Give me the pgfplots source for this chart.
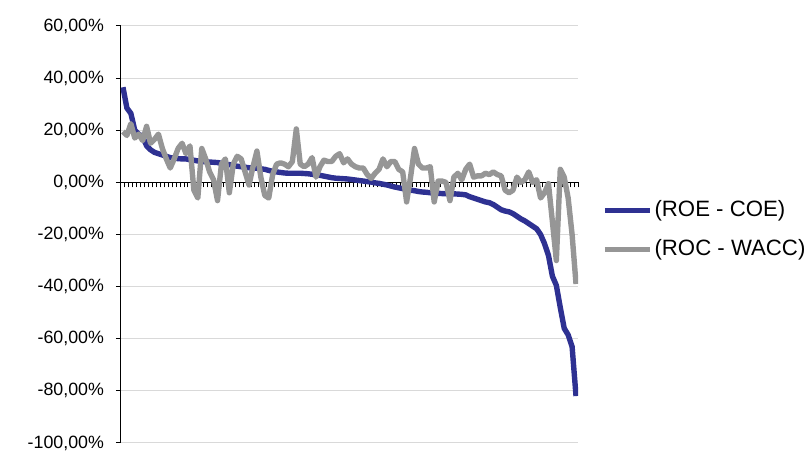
\documentclass[border=0pt]{standalone}
\usepackage{pgfplots}
\pgfplotsset{compat=1.18}
\usepackage{pgfplotstable}
\usepackage{fontspec}
\setmainfont{Liberation Sans}
\definecolor{roeblue}{HTML}{2E3192}
\definecolor{rocgray}{HTML}{969696}
\definecolor{gridgray}{HTML}{D9D9D9}

% i, (ROE - COE), (ROC - WACC) in percent
\pgfplotstableread{
i roe roc
1 36.5 19.5
2 28.5 18
3 26.5 22.5
4 20 17
5 18.5 18.5
6 17.5 16
7 14 21.5
8 12.5 15
9 11.5 16.5
10 11 18.5
11 10.5 13
12 10 9
13 9.5 5.5
14 9.3 9
15 9.1 13
16 9 15
17 9 11
18 8.7 14
19 8.5 -3
20 8.2 -6
21 8 13
22 7.9 9
23 7.8 4
24 7.7 1
25 7.6 -7
26 7.3 7
27 7 9
28 6.8 -4
29 6.5 7
30 6.2 10
31 6 9
32 5.8 4
33 5.6 -1
34 5.5 6
35 5.4 12
36 5.2 2
37 5 -5
38 4.6 -6
39 4.2 3
40 4 7
41 3.8 7.5
42 3.6 7
43 3.5 6
44 3.5 8
45 3.5 20.5
46 3.5 7
47 3.4 6
48 3.3 7
49 3.1 9.5
50 2.9 2
51 2.7 6
52 2.4 8.5
53 2.1 8
54 1.8 8
55 1.6 10
56 1.5 11
57 1.4 7.5
58 1.3 9
59 1.1 7
60 0.9 6
61 0.7 5.5
62 0.5 5.5
63 0.3 3
64 0.1 1.5
65 -0.2 3.5
66 -0.4 5
67 -0.7 9
68 -1 6
69 -1.4 8
70 -1.8 8
71 -2.1 5
72 -2.4 4
73 -2.7 -7.5
74 -3 2
75 -3.2 13
76 -3.5 7
77 -3.7 5.5
78 -3.8 5.5
79 -4 6
80 -4.1 -7.5
81 -4.2 0.5
82 -4.3 0.5
83 -4.3 0
84 -4.4 -7
85 -4.4 2
86 -4.5 3.5
87 -4.6 1
88 -4.8 5
89 -5.5 7
90 -6 2
91 -6.5 2.5
92 -7 2.5
93 -7.5 3.5
94 -7.8 3
95 -8.5 4
96 -9.5 3
97 -10.5 2.5
98 -11 -3
99 -11.3 -4
100 -12 -3
101 -13 2
102 -14 0
103 -14.8 1
104 -15.8 4
105 -16.8 0
106 -17.8 1
107 -20 -6
108 -23.5 -4
109 -28 -0.5
110 -36 -15
111 -39.5 -30
112 -48 5
113 -56 2
114 -58.5 -6
115 -63 -20
116 -82 -39
}\data

\begin{document}
\begin{tikzpicture}
\useasboundingbox (-60.5pt,-7.5pt) rectangle (343.5pt,221.5pt);
\begin{axis}[
  scale only axis,
  width=228.5pt, height=208.5pt,
  xmin=0.5, xmax=116.5,
  ymin=-100, ymax=60,
  axis x line=middle, axis y line=left,
  axis line style={-, black, line width=0.5pt},
  xtick={0.5,1.5,...,116.5}, xticklabels={},
  ytick={-100,-80,...,60},
  xtick align=outside, ytick align=outside,
  major tick length=2.5pt,
  tick style={black, line width=0.5pt},
  ymajorgrids, grid style={gridgray, line width=0.5pt},
  /pgf/number format/.cd, fixed, fixed zerofill, precision=2, use comma, assume math mode=true,
  /pgfplots/.cd,
  yticklabel={\pgfmathprintnumber{\tick}\%},
  tick label style={font=\fontsize{8.9}{10}\selectfont},
  yticklabel style={xshift=-2.5pt},
  legend style={at={(1.052,0.511)}, anchor=west, draw=none, fill=none,
    inner sep=0pt, font=\fontsize{11.1}{12}\selectfont, row sep=8pt,
    nodes={inner sep=1pt}},
  legend cell align=left,
  legend image code/.code={\draw[#1] (0pt,0pt) -- (22.5pt,0pt);},
]
\addplot[roeblue, line width=2.7pt, line join=round] table[x=i, y=roe]{\data};
\addlegendentry{(ROE - COE)}
\addplot[rocgray, line width=2.7pt, line join=round] table[x=i, y=roc]{\data};
\addlegendentry{(ROC - WACC)}
\end{axis}
\end{tikzpicture}
\end{document}
